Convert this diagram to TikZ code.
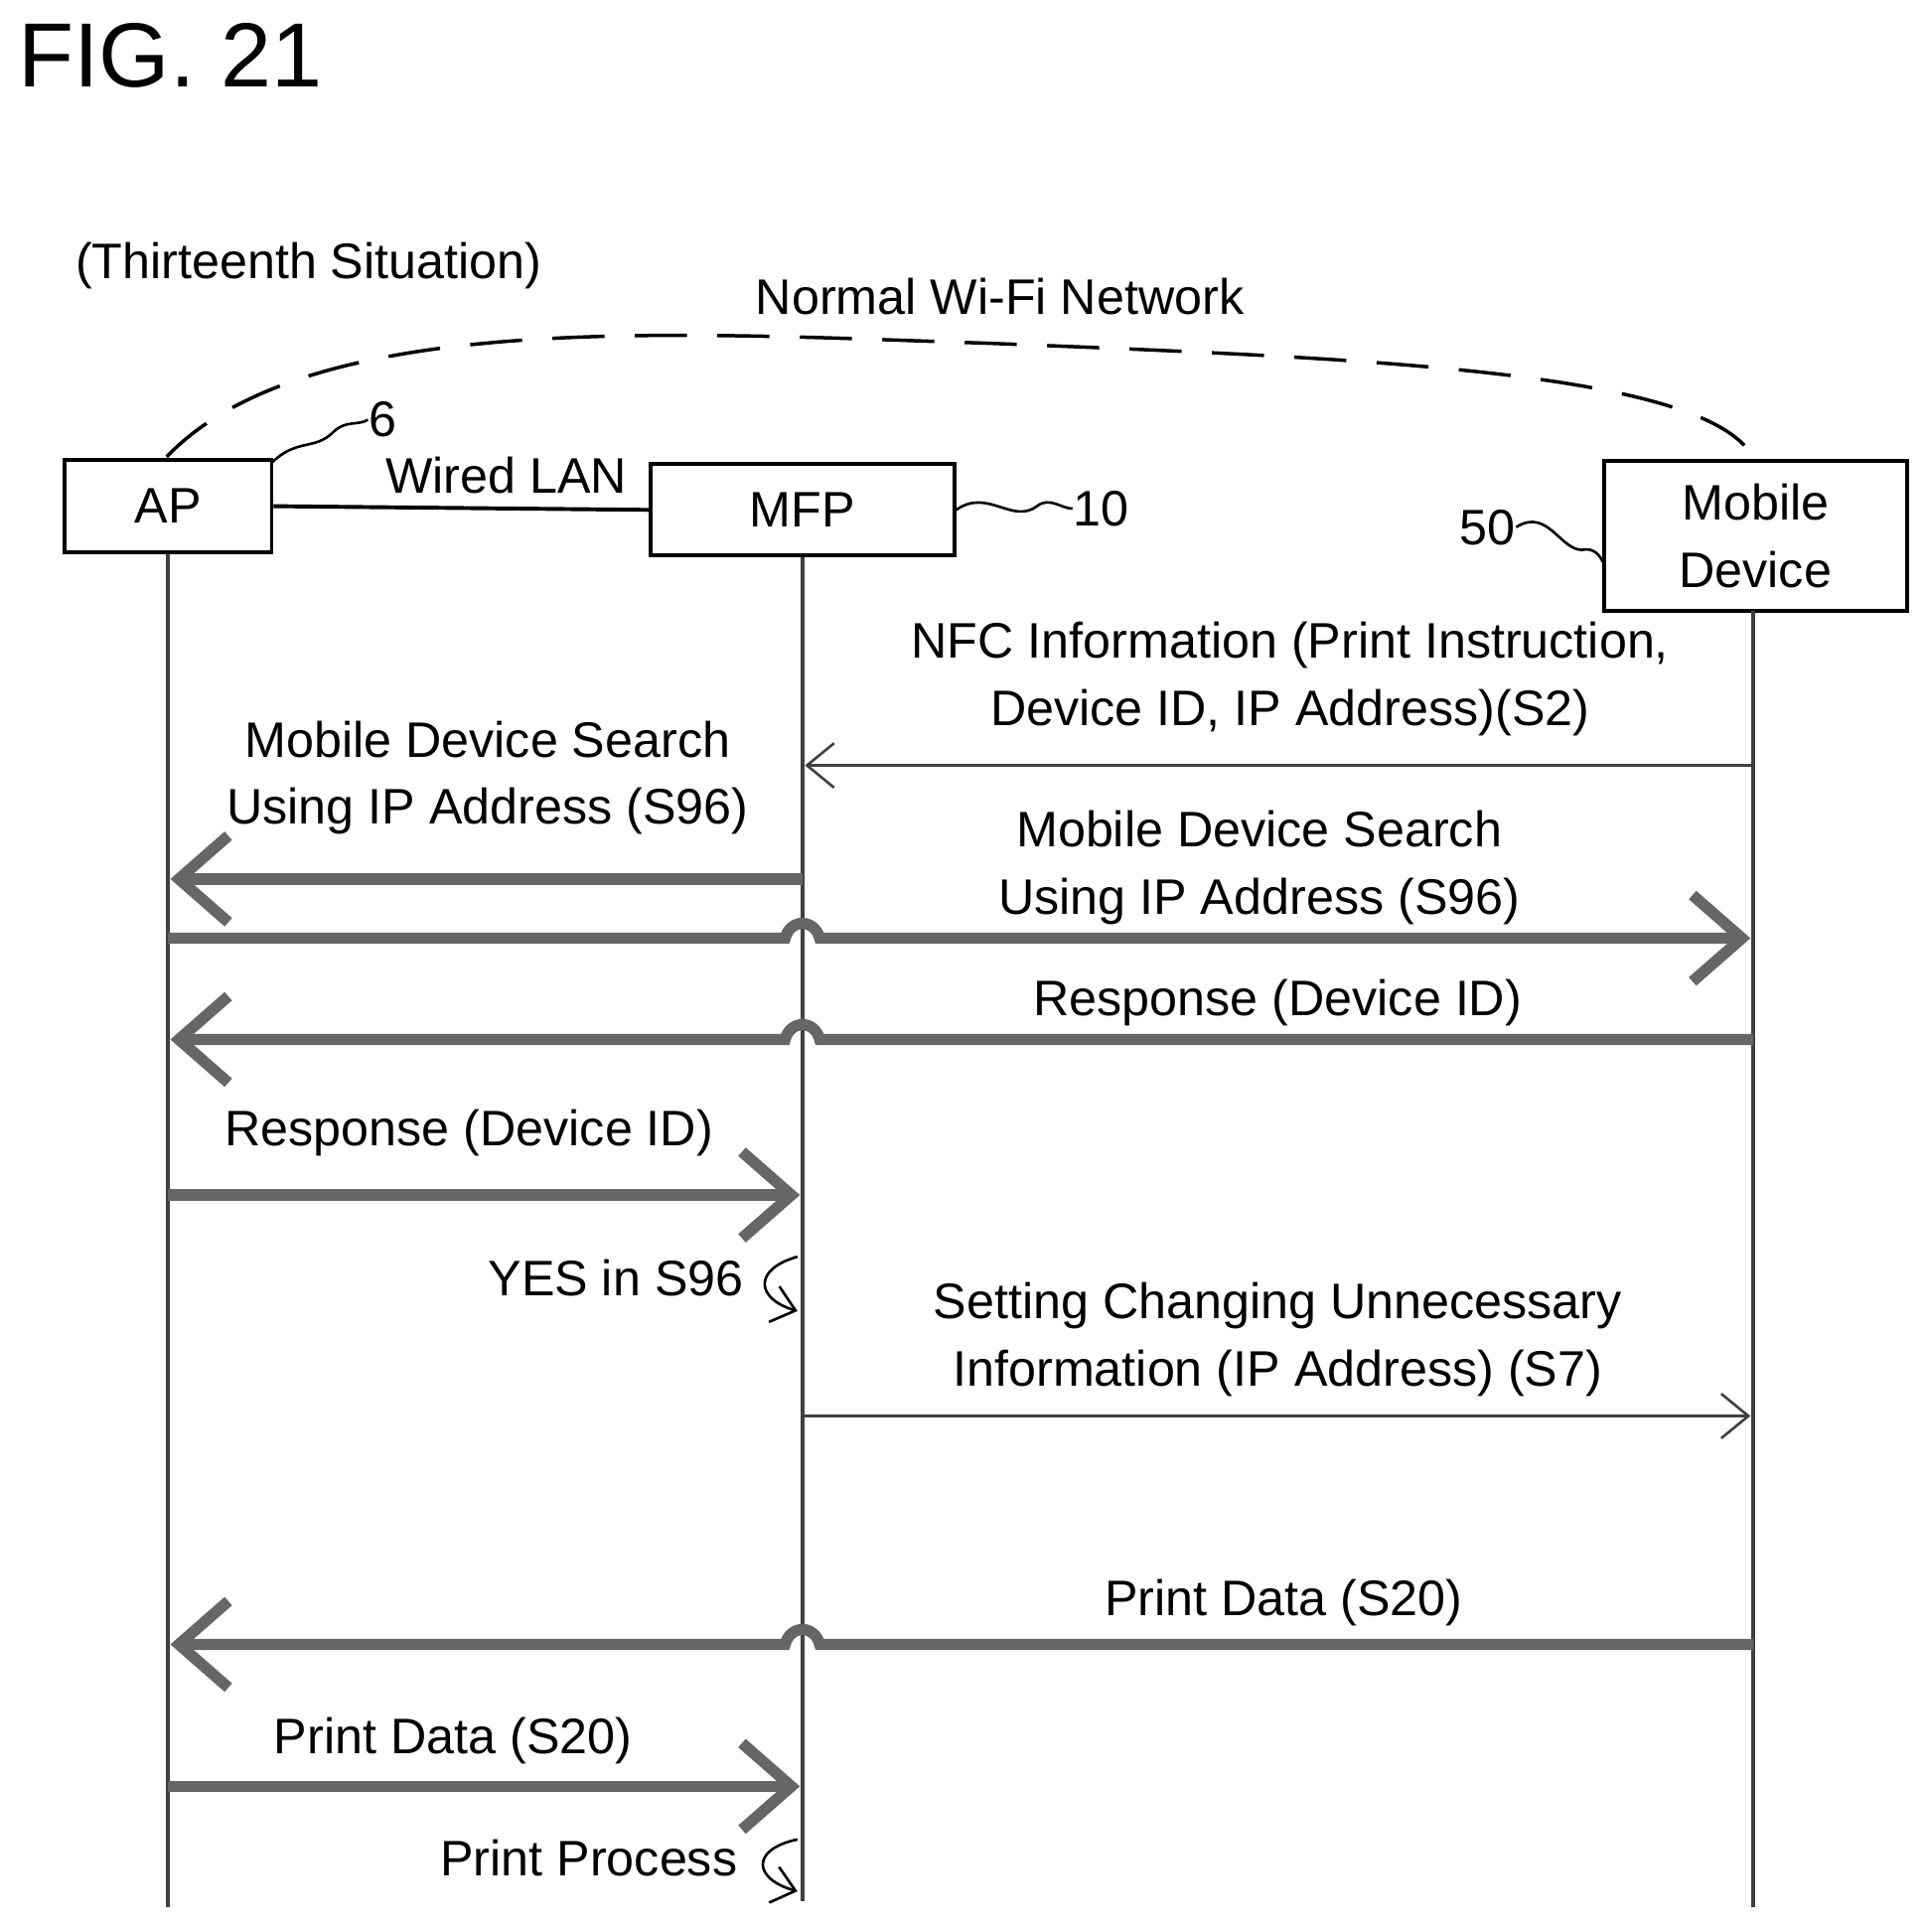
\documentclass[tikz,border=0pt]{standalone}
\usepackage{fontspec}
\setmainfont{Liberation Sans}
\usetikzlibrary{arrows.meta}
\begin{document}
\begin{tikzpicture}[x=0.01cm,y=-0.01cm,
  txt/.style={font=\fontsize{11.5}{15.5}\selectfont,align=center,inner sep=0},
  box/.style={draw,line width=0.9pt,fill=white,txt,inner sep=0},
  life/.style={line width=0.8pt,black!75},
  thin/.style={line width=0.6pt,black!75,-{Straight Barb[length=2.2mm,width=3.6mm]}},
  thick/.style={line width=2.6pt,black!60,-{Straight Barb[length=4mm,width=7mm]}},
  sq/.style={line width=0.6pt}]
\useasboundingbox (0,0) rectangle (1560,1565);
\node[font=\fontsize{21}{25}\selectfont,anchor=west,inner sep=0] (fig) at (14,45) {FIG. 21};
\node[txt] (sit) at (250,215) {(Thirteenth Situation)};
\node[txt] (net) at (810,240) {Normal Wi-Fi Network};
% boxes
\node[box,minimum width=1.68cm,minimum height=0.75cm] (ap) at (136,410) {AP};
\node[box,minimum width=2.46cm,minimum height=0.74cm] (mfp) at (650,413) {MFP};
\node[box,minimum width=2.45cm,minimum height=1.22cm] (mob) at (1422,434) {Mobile\\Device};
% dashed network arc
\draw[line width=0.8pt,dash pattern=on 12pt off 7pt] (135,370) .. controls (250,250) and (550,270) .. (800,278) .. controls (1100,290) and (1380,300) .. (1420,370);
% wired LAN
\draw[line width=0.9pt] (ap.east) -- (mfp.west);
\node[txt] (lan) at (410,385) {Wired LAN};
% ref numerals
\node[txt] (n6) at (310,340) {6};
\draw[sq] (220,375) .. controls (240,355) and (255,365) .. (270,350) .. controls (280,340) and (290,345) .. (n6.west);
\node[txt] (n10) at (892,412) {10};
\draw[sq] (mfp.east) .. controls (800,395) and (820,425) .. (840,410) .. controls (850,402) and (860,412) .. (n10.west);
\node[txt] (n50) at (1205,427) {50};
\draw[sq] (n50.east) .. controls (1255,410) and (1265,450) .. (1285,445) .. controls (1295,445) and (1298,455) .. (1300,458);
% lifelines
\coordinate (aB) at (136,1545); \coordinate (mB) at (650,1540); \coordinate (oB) at (1420,1545);
\draw[life] (ap.south) -- (aB);
\draw[life] (mfp.south) -- (mB);
\draw[life] (1420,495) -- (oB);
% NFC
\coordinate (o1) at (1420,620); \coordinate (m1) at (652,620);
\draw[thin] (o1) -- (m1);
\node[txt] (l1) at (1045,550) {NFC Information (Print Instruction,\\Device ID, IP Address)(S2)};
% search MFP->AP
\coordinate (m2) at (650,712); \coordinate (a2) at (138,712);
\draw[thick] (m2) -- (a2);
\node[txt] (l2) at (395,630) {Mobile Device Search\\Using IP Address (S96)};
% search AP->Mobile with hump
\coordinate (a3) at (136,760); \coordinate (o3) at (1418,760);
\draw[thick] (a3) -- (636,760) .. controls (640,744) and (660,744) .. (664,760) -- (o3);
\node[txt] (l3) at (1020,703) {Mobile Device Search\\Using IP Address (S96)};
% response Mobile->AP
\coordinate (o4) at (1420,842); \coordinate (a4) at (138,842);
\draw[thick] (o4) -- (664,842) .. controls (660,826) and (640,826) .. (636,842) -- (a4);
\node[txt] (l4) at (1035,812) {Response (Device ID)};
% response AP->MFP
\coordinate (a5) at (136,968); \coordinate (m5) at (648,968);
\draw[thick] (a5) -- (m5);
\node[txt] (l5) at (380,918) {Response (Device ID)};
% YES in S96
\node[txt,anchor=east] (l6) at (603,1035) {YES in S96};
\draw[sq,-{Straight Barb[length=1.8mm,width=3mm]}] (646,1018) .. controls (610,1028) and (612,1052) .. (646,1062);
% S7
\coordinate (m7) at (650,1147); \coordinate (o7) at (1418,1147);
\draw[thin] (m7) -- (o7);
\node[txt] (l7) at (1035,1085) {Setting Changing Unnecessary\\Information (IP Address) (S7)};
% print data Mobile->AP
\coordinate (o8) at (1420,1332); \coordinate (a8) at (138,1332);
\draw[thick] (o8) -- (664,1332) .. controls (660,1316) and (640,1316) .. (636,1332) -- (a8);
\node[txt] (l8) at (1040,1298) {Print Data (S20)};
% print data AP->MFP
\coordinate (a9) at (136,1447); \coordinate (m9) at (648,1447);
\draw[thick] (a9) -- (m9);
\node[txt] (l9) at (367,1410) {Print Data (S20)};
% print process
\node[txt,anchor=east] (l10) at (598,1505) {Print Process};
\draw[sq,-{Straight Barb[length=1.8mm,width=3mm]}] (646,1490) .. controls (608,1498) and (610,1522) .. (646,1532);
\end{tikzpicture}
\end{document}
